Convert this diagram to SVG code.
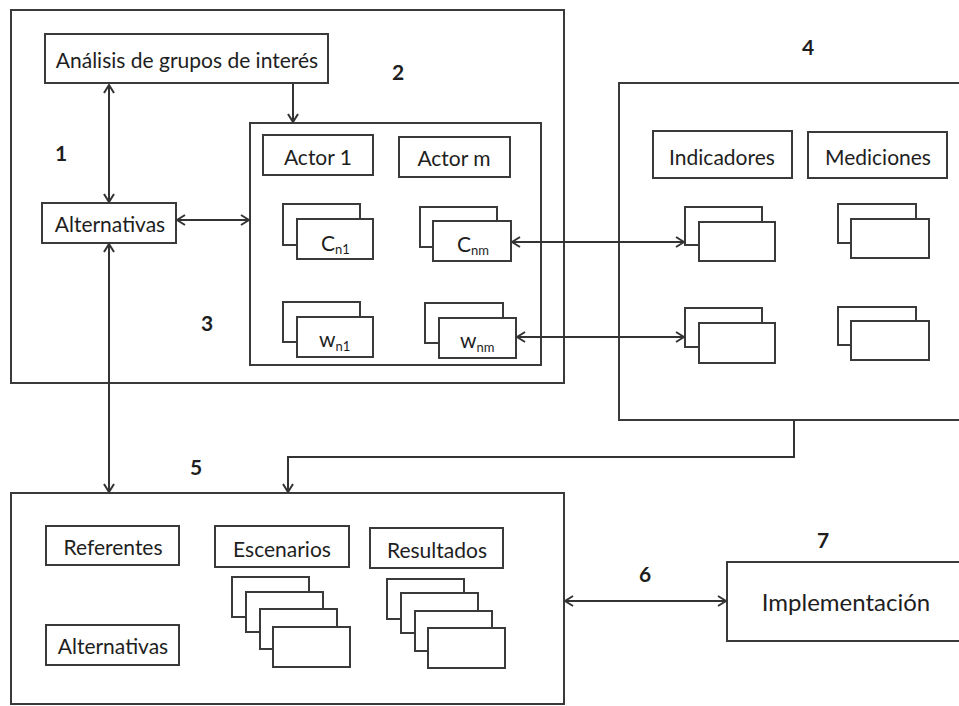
<svg xmlns="http://www.w3.org/2000/svg" width="959" height="706" viewBox="0 0 959 706">
<defs>
<style>
.b{fill:#fff;stroke:#3a3a3a;stroke-width:2}
.c{fill:none;stroke:#333;stroke-width:2}
text{font-family:Lato,"Liberation Sans",sans-serif;fill:#1e1e1e;font-size:21px}
.n{font-size:21px;font-weight:bold}
.m{text-anchor:middle}
.s{font-size:13px}
</style>
<marker id="a" viewBox="0 0 10 12" refX="9" refY="6" markerWidth="10" markerHeight="12" markerUnits="userSpaceOnUse" orient="auto-start-reverse">
<path d="M1,1 L9,6 L1,11" fill="none" stroke="#333" stroke-width="2"/>
</marker>
</defs>

<g id="box1"><rect class="b" x="11" y="10" width="553" height="373"/></g>
<g id="box4"><rect class="b" x="619" y="83" width="360" height="337"/></g>
<g id="box5"><rect class="b" x="11" y="493" width="553" height="211"/></g>
<g id="box7"><rect class="b" x="727" y="562" width="260" height="79"/><text class="m" x="846" y="611" style="font-size:24px">Implementación</text></g>

<g id="analisis"><rect class="b" x="45" y="34" width="283" height="49"/><text class="m" x="187" y="68">Análisis de grupos de interés</text></g>
<g id="alternativas1"><rect class="b" x="42" y="203" width="134" height="40"/><text class="m" x="110" y="232">Alternativas</text></g>
<g id="box3"><rect class="b" x="250" y="123" width="291" height="242"/></g>
<g id="actor1"><rect class="b" x="263" y="135" width="110" height="40"/><text class="m" x="318" y="165">Actor 1</text></g>
<g id="actorm"><rect class="b" x="399" y="137" width="111" height="40"/><text class="m" x="454" y="166">Actor m</text></g>

<g id="cn1"><rect class="b" x="283" y="204" width="77" height="41"/><rect class="b" x="297" y="219" width="76" height="40"/><text x="321" y="251">C<tspan class="s" dy="3">n1</tspan></text></g>
<g id="cnm"><rect class="b" x="420" y="207" width="77" height="40"/><rect class="b" x="433" y="221" width="78" height="40"/><text x="457" y="252">C<tspan class="s" dy="3">nm</tspan></text></g>
<g id="wn1"><rect class="b" x="283" y="302" width="77" height="40"/><rect class="b" x="297" y="317" width="76" height="40"/><text x="319" y="347">w<tspan class="s" dy="4">n1</tspan></text></g>
<g id="wnm"><rect class="b" x="425" y="303" width="78" height="40"/><rect class="b" x="439" y="318" width="77" height="40"/><text x="460" y="348">w<tspan class="s" dy="4">nm</tspan></text></g>

<g id="indicadores"><rect class="b" x="653" y="131" width="139" height="47"/><text class="m" x="722" y="165">Indicadores</text></g>
<g id="mediciones"><rect class="b" x="808" y="132" width="139" height="46"/><text class="m" x="878" y="165">Mediciones</text></g>
<g id="ind1"><rect class="b" x="685" y="207" width="77" height="38"/><rect class="b" x="699" y="222" width="76" height="39"/></g>
<g id="med1"><rect class="b" x="838" y="204" width="78" height="39"/><rect class="b" x="851" y="219" width="78" height="39"/></g>
<g id="ind2"><rect class="b" x="685" y="308" width="77" height="39"/><rect class="b" x="699" y="323" width="76" height="40"/></g>
<g id="med2"><rect class="b" x="838" y="307" width="78" height="38"/><rect class="b" x="851" y="321" width="78" height="39"/></g>

<g id="referentes"><rect class="b" x="46" y="526" width="133" height="39"/><text class="m" x="113" y="555">Referentes</text></g>
<g id="alternativas5"><rect class="b" x="46" y="625" width="133" height="40"/><text class="m" x="113" y="654">Alternativas</text></g>
<g id="escenarios"><rect class="b" x="215" y="526" width="134" height="41"/><text class="m" x="282" y="557">Escenarios</text></g>
<g id="resultados"><rect class="b" x="370" y="528" width="133" height="40"/><text class="m" x="437" y="558">Resultados</text></g>
<g id="esc-stack"><rect class="b" x="232" y="577" width="77" height="40"/><rect class="b" x="246" y="592" width="77" height="40"/><rect class="b" x="260" y="609" width="77" height="40"/><rect class="b" x="273" y="627" width="77" height="40"/></g>
<g id="res-stack"><rect class="b" x="387" y="579" width="77" height="40"/><rect class="b" x="401" y="593" width="77" height="40"/><rect class="b" x="415" y="611" width="77" height="40"/><rect class="b" x="428" y="628" width="77" height="40"/></g>

<g id="labels">
<text class="n m" x="61" y="161">1</text>
<text class="n m" x="398" y="80">2</text>
<text class="n m" x="207" y="331">3</text>
<text class="n m" x="808" y="55">4</text>
<text class="n m" x="196" y="475">5</text>
<text class="n m" x="645" y="582">6</text>
<text class="n m" x="823" y="548">7</text>
</g>

<g id="connectors">
<line class="c" x1="109" y1="85" x2="109" y2="202" marker-start="url(#a)" marker-end="url(#a)"/>
<line class="c" x1="293" y1="84" x2="293" y2="122" marker-end="url(#a)"/>
<line class="c" x1="177" y1="220" x2="249" y2="220" marker-start="url(#a)" marker-end="url(#a)"/>
<line class="c" x1="109" y1="244" x2="109" y2="492" marker-start="url(#a)" marker-end="url(#a)"/>
<line class="c" x1="512" y1="242" x2="684" y2="242" marker-start="url(#a)" marker-end="url(#a)"/>
<line class="c" x1="517" y1="337" x2="684" y2="337" marker-start="url(#a)" marker-end="url(#a)"/>
<path class="c" d="M794,420 V457 H288 V492" marker-end="url(#a)"/>
<line class="c" x1="565" y1="601" x2="726" y2="601" marker-start="url(#a)" marker-end="url(#a)"/>
</g>
</svg>
